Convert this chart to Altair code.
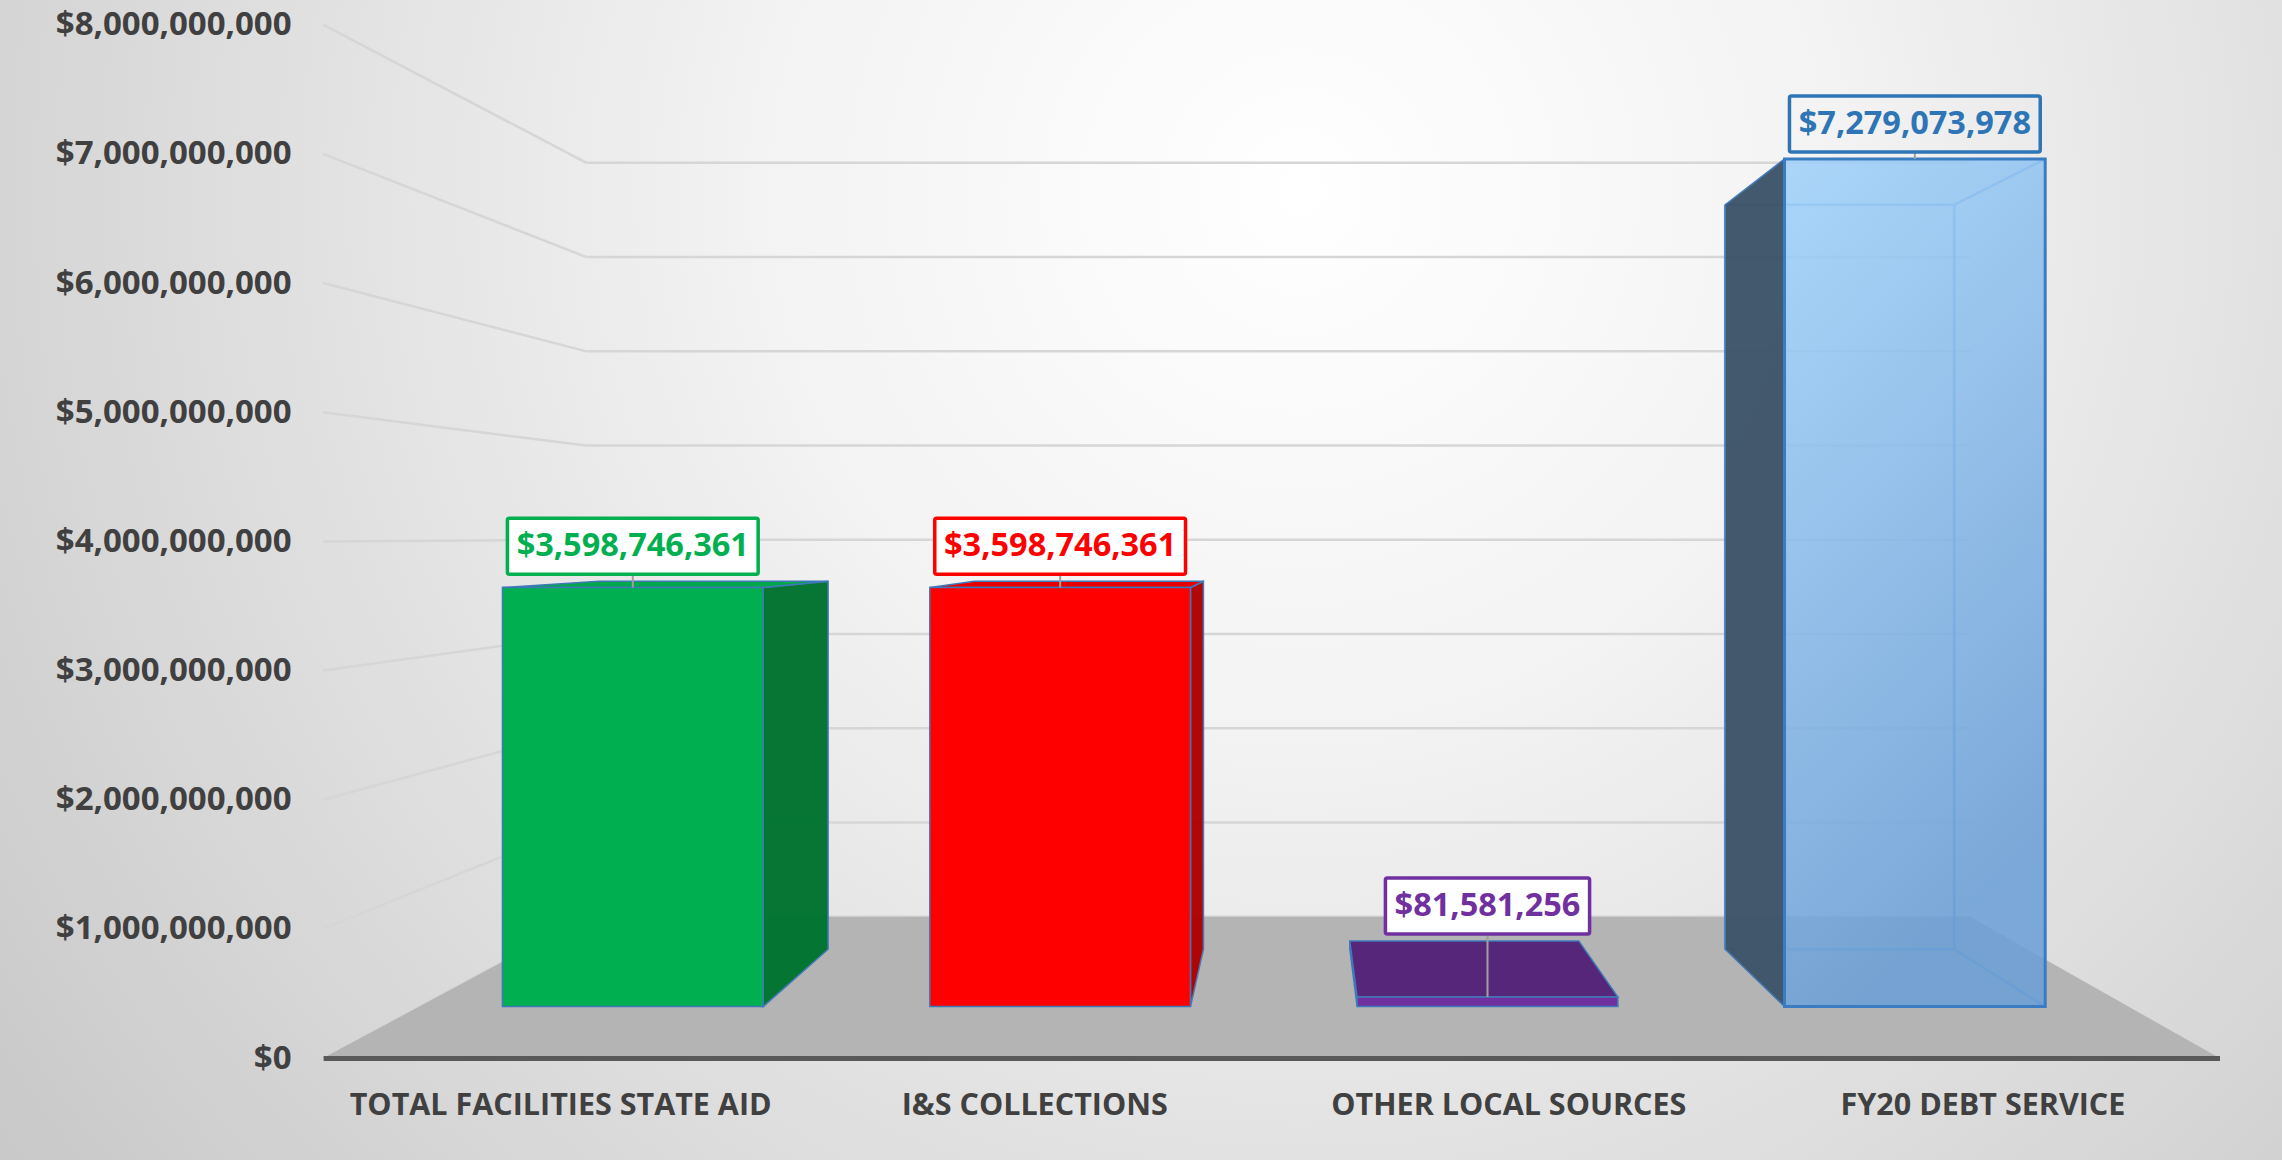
import json
import altair as alt
import pandas as pd

# ---------------- data ----------------
categories = ["TOTAL FACILITIES STATE AID", "I&S COLLECTIONS", "OTHER LOCAL SOURCES", "FY20 DEBT SERVICE"]
values = [3598746361, 3598746361, 81581256, 7279073978]
tick_values = [0, 1000000000, 2000000000, 3000000000, 4000000000,
               5000000000, 6000000000, 7000000000, 8000000000]

# ---------------- styles ----------------
FRONT_COLORS = ["#00b050", "#ff0000", "#7030a0", "#86bdf0"]
SIDE_COLORS = ["#00732f", "#b00000", "#4c2070", "#3e5469"]
TOP_COLORS = ["#00a84b", "#e80000", "#56267a", "#9ccffb"]
LABEL_COLORS = ["#00b050", "#ff0000", "#7030a0", "#2e75b6"]
BOX_FILLS = ["#ffffff", "#ffffff", "#ffffff", "rgba(255,255,255,0)"]
GLASS = [False, False, False, True]
FONT = "Open Sans"
TEXT_GREY = "#404040"
LABEL_SIZE = 32.5

# ---------------- perspective model (front-plane units) ----------------
VU, VV = 2.054, 4.045e9          # vanishing point (slot units, dollars)
S_BAR_FRONT, S_BAR_BACK, S_WALL = 0.9014, 0.7917, 0.7296
BAR_HALF = 0.305
X_RANGE = [323.1, 2219.5]
Y_RANGE = [1058.1, 24.7]
N_SLOTS = len(categories)
PX_PER_SLOT = (X_RANGE[1] - X_RANGE[0]) / N_SLOTS
PX_PER_VAL = (Y_RANGE[0] - Y_RANGE[1]) / tick_values[-1]


def px(u, s):
    return VU + (u - VU) * s


def py(v, s):
    return VV + (v - VV) * s


XS = alt.Scale(domain=[0, N_SLOTS], range=X_RANGE, nice=False, zero=False)
YS = alt.Scale(domain=[0, tick_values[-1]], range=Y_RANGE, nice=False, zero=False)

y_axis = alt.Axis(values=tick_values, format="$,.0f", labelFont=FONT, labelFontSize=33,
                  labelFontWeight="bold", labelColor=TEXT_GREY, domain=False, ticks=False, grid=False,
                  labelPadding=32, labelLimit=0, offset=-X_RANGE[0], zindex=1, title=None)
x_axis = alt.Axis(values=[i + 0.5 for i in range(N_SLOTS)],
                  labelExpr=json.dumps(categories) + "[floor(datum.value)]",
                  labelFont=FONT, labelFontSize=30.5, labelFontWeight="bold", labelColor=TEXT_GREY,
                  domain=True, domainColor="#595959", domainWidth=5, ticks=False, grid=False,
                  labelPadding=32, labelLimit=0, labelOverlap=False, labelFlush=False,
                  labelBound=False, offset=-(1160 - Y_RANGE[0]), zindex=1, title=None)


def X(f, **kw):
    return alt.X(f, scale=XS, axis=x_axis, **kw)


def Y(f, **kw):
    return alt.Y(f, scale=YS, axis=y_axis, **kw)


# grid (side wall diagonals + back wall horizontals)
grid_rows = []
for t in tick_values:
    grid_rows.append(dict(x=0, y=t, x2=px(0, S_WALL), y2=py(t, S_WALL)))
    grid_rows.append(dict(x=px(0, S_WALL), y=py(t, S_WALL), x2=px(N_SLOTS, S_WALL), y2=py(t, S_WALL)))

floor_rows = [dict(y=0, x=0, x2=N_SLOTS),
              dict(y=py(0, S_WALL), x=px(0, S_WALL), x2=px(N_SLOTS, S_WALL))]

sides, tops, fronts, glass_fronts, glass_lines, boxes, leaders = [], [], [], [], [], [], []
for i, (c, v) in enumerate(zip(categories, values)):
    uL, uR = i + 0.5 - BAR_HALF, i + 0.5 + BAR_HALF
    sF, sB = S_BAR_FRONT, S_BAR_BACK
    us = uR if uR < VU else (uL if uL > VU else None)
    if us is not None:
        for s in (sF, sB):
            sides.append(dict(id=c, x=px(us, s), y=py(0, s), y2=py(v, s), fill=SIDE_COLORS[i]))
    if v < VV:
        for s in (sF, sB):
            tops.append(dict(id=c, y=py(v, s), x=px(uL, s), x2=px(uR, s), fill=TOP_COLORS[i]))
    row = dict(id=c, x=px(uL, sF), x2=px(uR, sF), y=py(0, sF), y2=py(v, sF), fill=FRONT_COLORS[i])
    if GLASS[i]:
        glass_fronts.append(row)
        pts = [(uL, 0), (uR, 0), (uR, v), (uL, v)]
        for k in range(4):
            a, b = pts[k], pts[(k + 1) % 4]
            glass_lines.append(dict(x=px(a[0], sB), y=py(a[1], sB), x2=px(b[0], sB), y2=py(b[1], sB)))
        for vv in (0, v):
            glass_lines.append(dict(x=px(uR, sF), y=py(vv, sF), x2=px(uR, sB), y2=py(vv, sB)))
    else:
        fronts.append(row)
    # data label box
    text = "${:,}".format(v)
    n_dig = sum(ch.isdigit() or ch == "$" for ch in text)
    n_com = text.count(",")
    w_px = (n_dig * 0.572 + n_com * 0.29) * LABEL_SIZE + 18
    top_v = max(py(v, sF), py(v, sB))
    cy = top_v + 35 / PX_PER_VAL
    cx = px(i + 0.5, sF)
    hw = w_px / 2 / PX_PER_SLOT
    hh = 28 / PX_PER_VAL
    boxes.append(dict(text=text, cx=cx, cy=cy, x=cx - hw, x2=cx + hw, y=cy - hh, y2=cy + hh,
                      col=LABEL_COLORS[i], boxfill=BOX_FILLS[i]))
    leaders.append(dict(x=cx, y=cy - hh, y2=py(v, sF)))

# ---------------- layers ----------------
bg = alt.Chart(pd.DataFrame({"a": [0]})).mark_rect(
    fill={"gradient": "radial", "x1": 0.57, "y1": 0.33, "r1": 0.0, "x2": 0.57, "y2": 0.33, "r2": 0.78,
          "stops": [{"offset": 0, "color": "#ffffff"}, {"offset": 0.3, "color": "#f3f3f3"},
                    {"offset": 1, "color": "#c2c2c2"}]}
).encode(x=alt.value(0), x2=alt.value("width"), y=alt.value(0), y2=alt.value("height"))

grid = alt.Chart(pd.DataFrame(grid_rows)).mark_rule(color="#d6d6d6", strokeWidth=2.5).encode(
    x=X("x:Q"), y=Y("y:Q"), x2="x2:Q", y2="y2:Q")

floor = alt.Chart(pd.DataFrame(floor_rows)).mark_area(orient="horizontal", color="#b4b4b4").encode(
    y=Y("y:Q"), x=X("x:Q", stack=None), x2="x2:Q")

glass_back = alt.Chart(pd.DataFrame(glass_lines)).mark_rule(color="#5b9bd5", strokeWidth=2.5,
                                                            opacity=0.8).encode(
    x=X("x:Q"), y=Y("y:Q"), x2="x2:Q", y2="y2:Q")

side_layer = alt.Chart(pd.DataFrame(sides)).mark_area(stroke="#3f78b8", strokeWidth=1.5,
                                                      opacity=0.97).encode(
    x=X("x:Q"), y=Y("y:Q", stack=None), y2="y2:Q",
    color=alt.Color("fill:N", scale=None), detail="id:N")

top_layer = alt.Chart(pd.DataFrame(tops)).mark_area(orient="horizontal", stroke="#3f78b8",
                                                    strokeWidth=1.5).encode(
    y=Y("y:Q"), x=X("x:Q", stack=None), x2="x2:Q",
    color=alt.Color("fill:N", scale=None), detail="id:N")

front_layer = alt.Chart(pd.DataFrame(fronts)).mark_rect(stroke="#3f78b8", strokeWidth=1.5).encode(
    x=X("x:Q"), x2="x2:Q", y=Y("y:Q"), y2="y2:Q",
    color=alt.Color("fill:N", scale=None))

glass_layer = alt.Chart(pd.DataFrame(glass_fronts)).mark_rect(
    fill={"gradient": "linear", "x1": 0, "y1": 0, "x2": 0.3, "y2": 1,
          "stops": [{"offset": 0, "color": "#9fd1fb"}, {"offset": 1, "color": "#6a9fd6"}]},
    fillOpacity=0.86, stroke="#3a7cc2", strokeWidth=3).encode(
    x=X("x:Q"), x2="x2:Q", y=Y("y:Q"), y2="y2:Q")

leader_layer = alt.Chart(pd.DataFrame(leaders)).mark_rule(color="#a0a0a0", strokeWidth=2).encode(
    x=X("x:Q"), y=Y("y:Q"), y2="y2:Q")

box_layer = alt.Chart(pd.DataFrame(boxes)).mark_rect(strokeWidth=3.5, cornerRadius=2).encode(
    x=X("x:Q"), x2="x2:Q", y=Y("y:Q"), y2="y2:Q",
    fill=alt.Fill("boxfill:N", scale=None), stroke=alt.Stroke("col:N", scale=None))

text_layer = alt.Chart(pd.DataFrame(boxes)).mark_text(font=FONT, fontSize=LABEL_SIZE, fontWeight="bold",
                                                      align="center", baseline="middle").encode(
    x=X("cx:Q"), y=Y("cy:Q"),
    text="text:N", color=alt.Color("col:N", scale=None))

chart = alt.layer(bg, grid, floor, glass_back, side_layer, top_layer, front_layer, glass_layer,
                  leader_layer, box_layer, text_layer).properties(
    width=2282, height=1160, padding=0, autosize="none").configure_view(stroke=None)

chart.save("out.html", embed_options={"renderer": "svg", "actions": False})
